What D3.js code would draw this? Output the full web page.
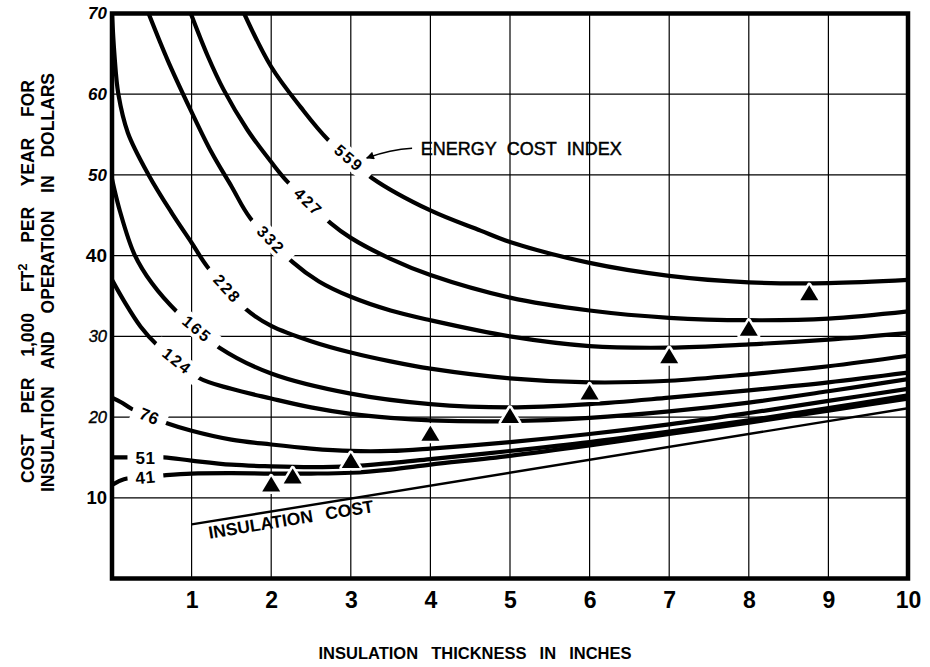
<!DOCTYPE html>
<html>
<head>
<meta charset="utf-8">
<script src="https://cdn.jsdelivr.net/npm/d3@7"></script>
<style>
  html, body { margin: 0; padding: 0; background: #fff; }
  svg { display: block; font-family: "Liberation Sans", Arial, Helvetica, sans-serif; }
</style>
</head>
<body>
<svg id="chart" width="930" height="667"></svg>
<script>
// Annual cost per 1,000 ft² (dollars) against insulation thickness (inches),
// one curve per energy cost index, plus the insulation cost alone.
const xTicks = [1, 2, 3, 4, 5, 6, 7, 8, 9, 10];
const yTicks = [10, 20, 30, 40, 50, 60, 70];
const energyIndices = [559, 427, 332, 228, 165, 124, 76, 51, 41];

// [thickness, cost] pairs for each energy cost index
const curve559 = [[1.66,70],[2.0,63.4],[2.37,58.4],[2.72,54.3],[3.27,49.6],[4.0,45.6],[4.63,43.1],[5,41.7],[6,39.1],[7,37.5],[8,36.7],[9,36.6],[10,37.0]];
const curve427 = [[0.99,70],[1.2,64.8],[1.4,60.6],[1.7,55.6],[2.0,51.6],[2.2,49.2],[2.75,44.0],[3.0,42.2],[3.5,39.6],[4.0,37.6],[5,34.8],[6,33.2],[7,32.3],[8,32.0],[9,32.2],[10,33.1]];
const curve332 = [[0.46,70],[0.7,64.2],[0.99,58.0],[1.25,52.8],[1.5,48.6],[1.74,44.6],[2.27,39.2],[2.6,36.8],[3.0,34.9],[3.5,33.2],[4.0,32.0],[5,30.0],[6,28.8],[7,28.6],[8,29.0],[9,29.6],[10,30.4]];
const curve228 = [[0.0,70],[0.03,65],[0.08,60],[0.2,55.2],[0.46,50],[0.75,45.3],[1.0,41.6],[1.2,38.6],[1.69,33.3],[2.0,31.3],[2.5,29.4],[3.0,28.0],[3.5,26.9],[4.0,26.0],[5,24.8],[6,24.3],[7,24.5],[8,25.3],[9,26.3],[10,27.6]];
const curve165 = [[0.0,49.5],[0.1,45.5],[0.28,40.2],[0.5,36.6],[0.83,32.9],[1.35,28.6],[2.0,25.4],[3.0,22.9],[4.0,21.6],[5,21.2],[6,21.6],[7,22.4],[8,23.3],[9,24.3],[10,25.5]];
const curve124 = [[0.0,37.0],[0.15,34.4],[0.36,31.2],[0.57,28.9],[1.08,24.9],[1.5,23.5],[2.0,22.3],[2.5,21.2],[3.0,20.4],[3.5,19.9],[4.0,19.6],[5,19.5],[6,19.9],[7,20.7],[8,21.8],[9,23.2],[10,24.7]];
const curve76  = [[0.0,22.4],[0.12,21.8],[0.25,21.0],[0.7,19.2],[1.0,18.3],[1.5,17.2],[2.0,16.6],[2.5,16.1],[3.0,15.8],[3.5,15.8],[4.0,16.1],[5,16.9],[6,17.9],[7,19.1],[8,20.5],[9,22.0],[10,23.5]];
const curve51  = [[0.0,15.0],[0.2,15.0],[0.65,15.0],[1.0,14.6],[1.5,14.1],[2.0,13.9],[2.5,13.8],[3.0,13.9],[3.5,14.3],[4.0,14.8],[5,15.8],[6,16.9],[7,18.2],[8,19.6],[9,21.1],[10,22.7]];
const curve41  = [[0.0,11.6],[0.15,12.3],[0.68,12.8],[1.0,13.0],[1.5,13.05],[2.0,13.0],[2.5,13.0],[3.0,13.1],[3.5,13.5],[4.0,14.1],[5,15.2],[6,16.5],[7,17.9],[8,19.3],[9,20.8],[10,22.3]];
const insulationCost = [[1,6.7],[10,21.1]];

// optimum thickness markers
const optimumThickness = [2.0, 2.27, 3.0, 4.0, 5.0, 6.0, 7.0, 8.0, 8.76];
const optimumCost      = [11.4, 12.4, 14.3, 17.7, 19.9, 22.8, 27.3, 30.7, 35.1];

const curveByIndex = {559: curve559, 427: curve427, 332: curve332, 228: curve228,
  165: curve165, 124: curve124, 76: curve76, 51: curve51, 41: curve41};

// where along each curve its index number sits
const labelThickness = {559: 2.98, 427: 2.47, 332: 2.0, 228: 1.45, 165: 1.07, 124: 0.82, 76: 0.47, 51: 0.42, 41: 0.42};

const svg = d3.select("#chart");
const x = d3.scaleLinear().domain([0, 10]).range([112, 908]);
const y = d3.scaleLinear().domain([0, 70]).range([578.5, 13.5]);

// clip
svg.append("defs").append("clipPath").attr("id", "plot-clip")
  .append("rect").attr("x", x(0)).attr("y", y(70))
  .attr("width", x(10) - x(0)).attr("height", y(0) - y(70));

// arrow head
svg.select("defs").append("marker").attr("id", "arrowhead")
  .attr("viewBox", "0 0 10 10").attr("refX", 9).attr("refY", 5)
  .attr("markerWidth", 13).attr("markerHeight", 8).attr("markerUnits", "userSpaceOnUse")
  .attr("orient", "auto")
  .append("path").attr("d", "M0,0L10,5L0,10Z").attr("fill", "#000");

// grid
const grid = svg.append("g").attr("stroke", "#000").attr("stroke-width", 1.2);
grid.selectAll("line.gv").data(xTicks.filter(d => d < 10)).join("line").attr("class", "gv")
  .attr("x1", d => x(d)).attr("x2", d => x(d)).attr("y1", y(0)).attr("y2", y(70));
grid.selectAll("line.gh").data(yTicks.filter(d => d < 70)).join("line").attr("class", "gh")
  .attr("x1", x(0)).attr("x2", x(10)).attr("y1", d => y(d)).attr("y2", d => y(d));

// cost curves
const line = d3.line().x(d => x(d[0])).y(d => y(d[1])).curve(d3.curveCatmullRom.alpha(0.5));
const plot = svg.append("g").attr("clip-path", "url(#plot-clip)");
plot.selectAll("path.cost").data(energyIndices).join("path").attr("class", "cost")
  .attr("d", d => line(curveByIndex[d]))
  .attr("fill", "none").attr("stroke", "#000").attr("stroke-width", 4.2)
  .attr("stroke-linecap", "round");

// insulation cost line
const straight = d3.line().x(d => x(d[0])).y(d => y(d[1]));
plot.append("path").attr("d", straight(insulationCost))
  .attr("fill", "none").attr("stroke", "#000").attr("stroke-width", 2.4);

// position and slope on a curve at a given thickness
function chordAt(pts, t) {
  for (let i = 1; i < pts.length; i++) {
    if (pts[i][0] >= t) {
      const [x0, v0] = pts[i - 1], [x1, v1] = pts[i];
      const f = (t - x0) / (x1 - x0);
      const ang = Math.atan2(y(v1) - y(v0), x(x1) - x(x0)) * 180 / Math.PI;
      return {v: v0 + f * (v1 - v0), a: ang};
    }
  }
  return {v: pts[pts.length - 1][1], a: 0};
}

// curve index labels, set in a break of the curve
const labels = svg.append("g");
energyIndices.forEach(idx => {
  const t = labelThickness[idx];
  const {v, a} = chordAt(curveByIndex[idx], t);
  const g = labels.append("g").attr("transform", `translate(${x(t)},${y(v)}) rotate(${a})`);
  const box = g.append("rect").attr("fill", "#fff");
  const txt = g.append("text").text(idx)
    .attr("text-anchor", "middle").attr("dy", "0.36em")
    .attr("font-size", idx > 99 ? 16 : 17).attr("font-weight", "bold")
    .attr("letter-spacing", idx > 99 ? 2 : 0.5);
  const w = txt.node().getComputedTextLength();
  const pad = idx > 99 ? 11 : 8;
  box.attr("x", -w / 2 - pad).attr("width", w + 2 * pad).attr("y", -9.5).attr("height", 19);
});

// optimum markers
svg.append("g").selectAll("path").data(optimumThickness.map((t, i) => [t, optimumCost[i]])).join("path")
  .attr("d", "M0,-10L9,5L-9,5Z")
  .attr("transform", d => `translate(${x(d[0])},${y(d[1])})`)
  .attr("fill", "#000").attr("stroke", "#fff").attr("stroke-width", 5)
  .attr("stroke-linejoin", "round").attr("paint-order", "stroke");

// frame
svg.append("rect").attr("x", x(0)).attr("y", y(70))
  .attr("width", x(10) - x(0)).attr("height", y(0) - y(70))
  .attr("fill", "none").attr("stroke", "#000").attr("stroke-width", 4.5);

// axes
const xAxis = svg.append("g").attr("transform", `translate(0,${y(0)})`)
  .call(d3.axisBottom(x).tickValues(xTicks).tickSize(0).tickPadding(13).tickFormat(d3.format("d")));
xAxis.select(".domain").remove();
xAxis.selectAll("text").attr("font-size", 23).attr("font-weight", "bold")
  .attr("font-family", "Liberation Sans, Arial, sans-serif").attr("fill", "#000");

const yTickFont = {
  70: {w: "bold", s: "italic", z: 17},
  60: {w: "bold", s: "italic", z: 17},
  50: {w: "bold", s: "italic", z: 17},
  40: {w: "bold", s: "normal", z: 19},
  30: {w: "normal", s: "italic", z: 16.5},
  20: {w: "normal", s: "italic", z: 16.5},
  10: {w: "bold", s: "normal", z: 18.5}
};
const yAxis = svg.append("g").attr("transform", `translate(${x(0)},0)`)
  .call(d3.axisLeft(y).tickValues(yTicks).tickSize(0).tickPadding(5).tickFormat(d3.format("d")));
yAxis.select(".domain").remove();
yAxis.selectAll("text")
  .attr("font-family", "Liberation Sans, Arial, sans-serif").attr("fill", "#000")
  .attr("font-size", d => yTickFont[d].z)
  .attr("font-weight", d => yTickFont[d].w)
  .attr("font-style", d => yTickFont[d].s)
  .attr("stroke", d => yTickFont[d].w === "normal" ? "#000" : null)
  .attr("stroke-width", d => yTickFont[d].w === "normal" ? 0.4 : null);

// stretch word gaps so a line spans a given length
function spreadWords(sel, target) {
  const natural = sel.node().getComputedTextLength();
  const gaps = (sel.text().match(/ /g) || []).length;
  if (gaps > 0 && target > natural) sel.style("word-spacing", ((target - natural) / gaps) + "px");
}

// axis titles
const xTitle = svg.append("text").attr("x", 475).attr("y", 659)
  .attr("text-anchor", "middle").attr("font-size", 16.5).attr("font-weight", "bold")
  .text("INSULATION THICKNESS IN INCHES");
spreadWords(xTitle, 313);

const yTitle1 = svg.append("text").attr("transform", "translate(33.5,281.5) rotate(-90)")
  .attr("text-anchor", "middle").attr("font-size", 17.5).attr("font-weight", "bold");
yTitle1.append("tspan").text("COST PER 1,000 FT");
yTitle1.append("tspan").text("2").attr("font-size", 13).attr("dy", -7);
yTitle1.append("tspan").text(" PER YEAR FOR").attr("dy", 7);
spreadWords(yTitle1, 403);

const yTitle2 = svg.append("text").attr("transform", "translate(53.5,282.5) rotate(-90)")
  .attr("text-anchor", "middle").attr("font-size", 17.5).attr("font-weight", "bold")
  .text("INSULATION AND OPERATION IN DOLLARS");
spreadWords(yTitle2, 419);

// insulation cost label, set along the line
{
  const [p0, p1] = insulationCost;
  const ang = Math.atan2(y(p1[1]) - y(p0[1]), x(p1[0]) - x(p0[0])) * 180 / Math.PI;
  const t = 1.19;
  const v = p0[1] + (t - p0[0]) * (p1[1] - p0[1]) / (p1[0] - p0[0]);
  const lbl = svg.append("text")
    .attr("transform", `translate(${x(t)},${y(v)}) rotate(${ang})`)
    .attr("x", 0).attr("y", 17)
    .attr("font-size", 17.5).attr("font-weight", "bold")
    .text("INSULATION COST");
  spreadWords(lbl, 167);
}

// energy cost index annotation with arrow
{
  const note = svg.append("text").attr("x", x(3.88)).attr("y", y(52.47))
    .attr("font-size", 18).attr("stroke", "#000").attr("stroke-width", 0.45)
    .text("ENERGY COST INDEX");
  spreadWords(note, 201);
  const p = d3.path();
  p.moveTo(x(3.77), y(53.3));
  p.quadraticCurveTo(x(3.5), y(53.15), x(3.2), y(52.1));
  svg.append("path").attr("d", p.toString()).attr("fill", "none")
    .attr("stroke", "#000").attr("stroke-width", 1.6).attr("marker-end", "url(#arrowhead)");
}
</script>
</body>
</html>
